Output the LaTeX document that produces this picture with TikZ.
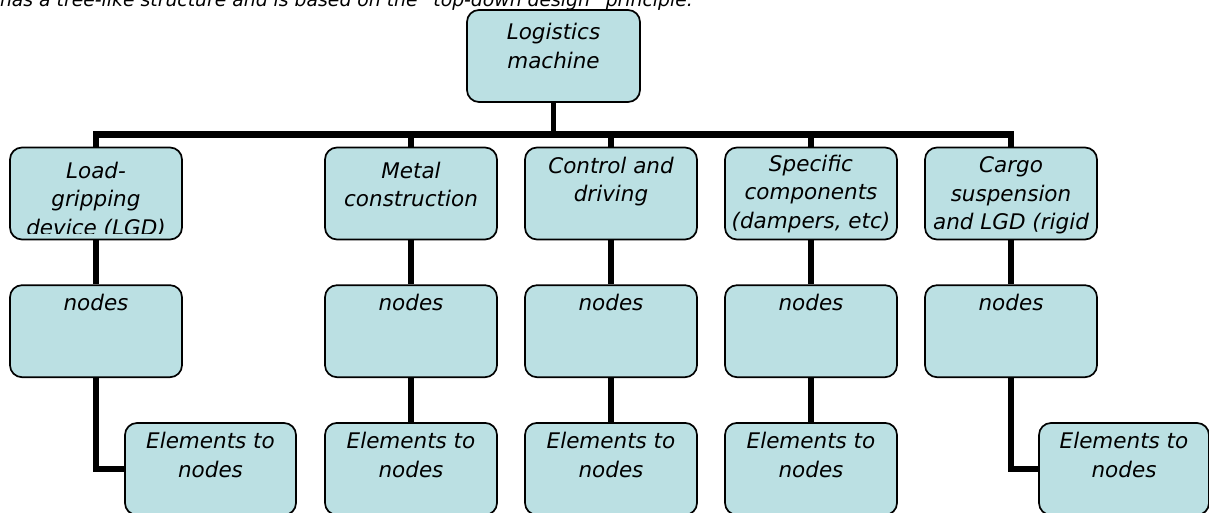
\documentclass[tikz,border=0pt]{standalone}
\usepackage{fontspec}
\setmainfont{DejaVu Sans}
\usepackage{xcolor}
\usepackage{tikz}
\usetikzlibrary{positioning}

\definecolor{cardfill}{RGB}{187,224,227}
\newcommand{\cardfont}{\itshape\fontsize{21.5}{28.5}\selectfont}

\begin{document}
\begin{tikzpicture}[
    x=1pt, y=1pt,
    box/.style={rectangle, draw, rounded corners=12pt, fill=cardfill, line width=1.7pt, minimum width=172pt, minimum height=92pt, inner sep=0pt},
    txt/.style={anchor=north, inner sep=0pt, align=center, font=\cardfont},
    edge/.style={line width=5.5pt},
    bus/.style={line width=6.5pt, line cap=rect}
]
    \useasboundingbox (0,0) rectangle (1209,512);

    % sentence cut by the top edge
    \node[font=\itshape\fontsize{18.8}{22}\selectfont, anchor=base east, inner sep=0pt] (intro) at (693,505.5)
        {It has a tree-like structure and is based on the “top-down design” principle.};

    % boxes
    \node[box, minimum width=173pt] (root) at (553.5,456) {};
    \node[box] (a1) at (96,318.5) {};
    \node[box] (a2) at (411,318.5) {};
    \node[box] (a3) at (611,318.5) {};
    \node[box] (a4) at (811,318.5) {};
    \node[box] (a5) at (1011,318.5) {};
    \foreach \i in {1,...,5}
        \node[box, below=44pt of a\i] (b\i) {};
    \node[box, minimum width=171pt] (c1) at (210.5,43) {};
    \node[box, below=44pt of b2] (c2) {};
    \node[box, below=44pt of b3] (c3) {};
    \node[box, below=44pt of b4] (c4) {};
    \node[box, minimum width=170pt] (c5) at (1124,43) {};

    % texts
    \node[txt] (root-t) at ([yshift=-14pt]root.north) {Logistics\\machine};
    \begin{scope}
        \clip ([yshift=7pt]a1.south west) rectangle (a1.north east);
        \node[txt] (a1-t) at ([yshift=-15pt]a1.north) {Load-\\gripping\\device (LGD)};
    \end{scope}
    \node[txt] (a2-t) at ([yshift=-15pt]a2.north) {Metal\\construction};
    \node[txt] (a3-t) at ([yshift=-10pt]a3.north) {Control and\\driving};
    \node[txt] (a4-t) at ([yshift=-8pt]a4.north) {Specific\\components\\(dampers, etc)};
    \node[txt] (a5-t) at ([yshift=-10pt]a5.north) {Cargo\\suspension\\and LGD (rigid};
    \foreach \i in {1,...,5} {
        \node[txt] (b\i-t) at ([yshift=-10pt]b\i.north) {nodes};
        \node[txt] (c\i-t) at ([yshift=-10pt]c\i.north) {Elements to\\nodes};
    }

    % connectors
    \coordinate (bus) at (553.5,377.5);
    \draw[bus] (a1 |- bus) -- (a5 |- bus);
    \draw[edge] (root) -- (root |- bus);
    \foreach \i in {1,...,5} {
        \draw[edge] (a\i |- bus) -- (a\i);
        \draw[edge] (a\i) -- (b\i);
    }
    \foreach \i in {2,3,4}
        \draw[edge] (b\i) -- (c\i);
    \draw[edge] (b1) |- (c1);
    \draw[edge] (b5) |- (c5);
\end{tikzpicture}
\end{document}
